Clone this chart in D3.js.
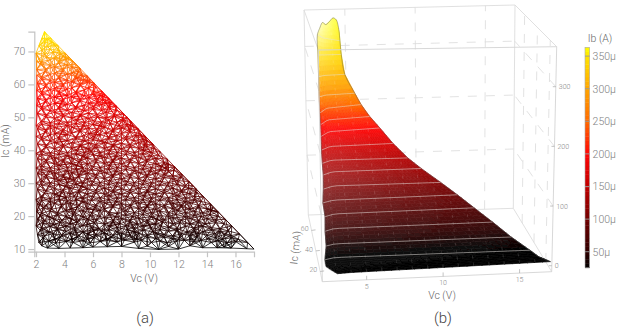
<!DOCTYPE html>
<meta charset="utf-8">
<title>Vc Ic Ib</title>
<style>
body { margin: 0; background: #fff; }
svg { display: block; }
text { font-family: Roboto, "Liberation Sans", sans-serif; font-weight: 300; fill: #777; }
.axis path, .axis line { stroke: #c4c4c4; stroke-width: 1.2; fill: none; }
.axis text { font-size: 10.5px; fill: #808080; }
.tag { font-size: 15px; fill: #444; }
.title { font-size: 10.5px; fill: #666; }
.small { font-size: 7px; fill: #888; }
</style>
<script src="https://d3js.org/d3.v7.min.js"></script>
<body>
<script>
// (a) mesh vertices, [Vc, Ic]
var meshBottom = [[2.4,11],[2.8,10.3],[3.6,10.2],[4.4,10.3],[5.3,10.4],[6,10.6],[7,10.7],[8,10.8],[9.2,10.2],[9.8,10.9],[10.6,9.9],[11.3,10.8],[12,10],[12.8,11],[13.7,10.4],[14.7,10.4],[15.2,10.6],[15.7,10.3],[16.8,10.1],[17.3,10]];
var meshPoints = [
[2.2,12],[2.9,12.4],[3.4,11.8],[4.1,12.3],[4.6,12],[5.3,12.5],[5.8,11.9],[6.5,12.3],[7,12.6],[7.7,12.2],[8.2,12.7],[8.9,12.1],[9.4,12.6],[10.1,12],[10.7,12.4],[11.2,11.9],[11.9,12.4],[12.4,12.7],[13.1,12.2],[13.6,12.6],[14.3,12],[14.8,12.5],[15.4,11.9],[16,12.3],[16.85,12],
[2.1,14.4],[2.6,14],[3.2,14.7],[3.8,14.2],[4.4,14.8],[5,14.1],[5.6,14.6],[6.2,14.3],[6.8,14.9],[7.4,14.2],[8,14.7],[8.6,14.3],[9.2,14.8],[9.8,14.2],[10.4,14.7],[11,14.4],[11.6,14],[12.2,14.6],[12.8,14.2],[13.4,14.8],[14,14.2],[14.6,14.7],[15.2,14.4],[15.7,14.1],[16.28,14.6],
[2,17],[2.4,16.4],[3,16.9],[3.5,16.3],[4.1,17],[4.7,16.5],[5.3,17.1],[5.9,16.6],[6.4,16.2],[7.1,17],[7.7,16.5],[8.3,17.1],[8.9,16.4],[9.5,17],[10.1,16.5],[10.7,17.1],[11.3,16.6],[11.9,16.2],[12.5,16.9],[13.1,16.4],[13.7,17],[14.3,16.5],[14.9,16.2],[15.74,17],
[2.1,19],[2.6,18.6],[3.2,19.3],[3.8,18.8],[4.4,19.4],[5,18.7],[5.6,19.2],[6.2,18.9],[6.8,19.5],[7.4,18.7],[8,19.2],[8.6,18.8],[9.2,19.4],[9.8,18.7],[10.4,19.2],[11,18.9],[11.6,19.5],[12.2,18.8],[12.8,19.3],[13.4,18.7],[14,19.2],[14.6,18.9],[15.3,19],
[2.05,21.4],[2.4,20.9],[3,21.6],[3.5,21],[4.1,21.7],[4.7,21.1],[5.3,21.6],[5.9,21],[6.5,21.7],[7.1,21.2],[7.7,20.9],[8.3,21.6],[8.9,21.1],[9.5,21.7],[10.1,21],[10.7,21.5],[11.3,21.1],[11.9,21.7],[12.5,21],[13.1,21.5],[13.7,21],[14.25,21.6],[14.78,21.3],
[2.1,23.7],[2.7,23.2],[3.3,23.9],[3.8,23.4],[4.4,24],[5,23.3],[5.6,23.8],[6.2,23.4],[6.8,24],[7.4,23.3],[8,23.8],[8.6,23.4],[9.2,24],[9.8,23.3],[10.4,23.8],[11,23.3],[11.6,23.9],[12.2,23.4],[12.8,24],[13.4,23.3],[14.25,23.7],
[2,25],[2.4,25.8],[3,25.3],[3.6,26.1],[4.1,25.6],[4.7,26.2],[5.3,25.5],[5.9,26],[6.5,25.6],[7.1,26.2],[7.7,25.5],[8.3,26],[8.9,25.6],[9.5,26.2],[10.1,25.5],[10.7,26],[11.3,25.6],[11.9,26.2],[12.5,25.5],[13.1,26],[13.75,25.9],
[2.1,28.2],[2.7,27.7],[3.3,28.4],[3.9,27.9],[4.4,28.5],[5,27.8],[5.6,28.3],[6.2,27.9],[6.8,28.5],[7.4,27.8],[8,28.3],[8.6,27.9],[9.2,28.5],[9.8,27.8],[10.4,28.3],[11,27.9],[11.6,28.5],[12.2,27.8],[12.7,28.4],[13.25,28.2],
[2,30],[2.4,30.6],[3,30.1],[3.6,30.8],[4.2,30.2],[4.7,30.8],[5.3,30.1],[5.9,30.6],[6.5,30.2],[7.1,30.8],[7.7,30.1],[8.3,30.6],[8.9,30.2],[9.5,30.8],[10.1,30.1],[10.7,30.6],[11.3,30.2],[11.9,30.8],[12.74,30.5],
[2.1,33],[2.7,32.4],[3.3,33.1],[3.9,32.5],[4.5,33.2],[5,32.5],[5.6,33],[6.2,32.6],[6.8,33.2],[7.4,32.5],[8,33],[8.6,32.6],[9.2,33.2],[9.8,32.5],[10.4,33],[11,32.6],[11.6,32.2],[12.24,32.7],
[2,34.6],[2.4,35.2],[3,34.7],[3.6,35.4],[4.2,34.8],[4.8,35.4],[5.3,34.7],[5.9,35.2],[6.5,34.8],[7.1,35.4],[7.7,34.7],[8.3,35.2],[8.9,34.8],[9.5,35.4],[10.1,34.7],[10.7,35.2],[11.1,34.6],[11.73,35],
[2.1,37.5],[2.7,37],[3.3,37.7],[3.9,37.1],[4.5,37.8],[5.1,37.1],[5.6,37.6],[6.2,37.2],[6.8,37.8],[7.4,37.1],[8,37.6],[8.6,37.2],[9.2,37.8],[9.8,37.1],[10.4,37.6],[11.22,37.3],
[2,39],[2.4,39.7],[3,39.2],[3.6,39.9],[4.2,39.3],[4.8,40],[5.4,39.3],[5.9,39.8],[6.5,39.4],[7.1,40],[7.7,39.3],[8.3,39.8],[8.9,39.4],[9.5,40],[10.05,39.4],[10.71,39.6],
[2.1,42],[2.7,41.6],[3.3,42.3],[3.9,41.7],[4.5,42.3],[5.1,41.6],[5.7,42.1],[6.2,41.7],[6.8,42.3],[7.4,41.6],[8,42.1],[8.6,41.7],[9.2,42.3],[9.6,41.6],[10.2,41.9],
[2,44.2],[2.4,43.9],[3,44.6],[3.6,44],[4.2,44.7],[4.8,44],[5.4,44.5],[6,44.1],[6.5,44.7],[7.1,44],[7.7,44.5],[8.3,44.1],[9,44.5],[9.68,44.2],
[2.1,46.6],[2.7,46.2],[3.3,46.9],[3.9,46.3],[4.5,47],[5.1,46.3],[5.7,46.8],[6.3,46.4],[6.8,47],[7.4,46.3],[8,46.8],[8.55,46.3],[9.17,46.5],
[2,47.5],[2.4,48.9],[3,48.4],[3.6,49.1],[4.2,48.5],[4.8,49.2],[5.4,48.5],[6,49],[6.6,48.6],[7.1,49.2],[7.7,48.5],[8.1,49],[8.66,48.8],
[2.1,51.2],[2.7,50.8],[3.3,51.5],[3.9,50.9],[4.5,51.5],[5.1,50.8],[5.7,51.3],[6.3,50.9],[6.9,51.5],[7.5,50.8],[8.15,51.1],
[2.05,53.6],[2.4,53.1],[3,53.8],[3.6,53.2],[4.2,53.9],[4.8,53.2],[5.4,53.7],[6,53.3],[6.6,53.9],[7.1,53.2],[7.64,53.4],
[2.1,55.8],[2.7,55.4],[3.3,56.1],[3.9,55.5],[4.5,56.2],[5.1,55.5],[5.7,56],[6.3,55.6],[6.7,55.3],[7.12,55.7],
[2.05,58.2],[2.4,57.7],[3,58.4],[3.6,57.8],[4.2,58.5],[4.8,57.8],[5.4,58.3],[6,57.9],[6.61,58],
[2.1,60.5],[2.7,60],[3.3,60.7],[3.9,60.1],[4.5,60.8],[5.1,60.1],[5.6,60.6],[6.1,60.3],
[2.05,62.8],[2.4,62.3],[3,63],[3.6,62.4],[4.2,63.1],[4.8,62.4],[5.2,62.9],[5.59,62.6],
[2.05,64.5],[2.7,64.7],[3.3,65.3],[3.9,64.7],[4.5,65.4],[5.08,64.9],
[2.05,67],[2.4,66.9],[3,67.5],[3.6,67],[4.1,67.6],[4.56,67.2],
[2,69.5],[2.6,69.2],[3.2,69.8],[3.7,69.3],[4.05,69.5],
[2.21,71.8],[2.8,71.5],[3.3,72],[3.54,71.8],
[2.42,74],[2.8,73.9],[3.03,74.1],
[2.6,76]
];
// the finer vertices between those rows
var meshInner = [
[2.5,13.4],[3.3,13],[3.7,13.6],[4.5,13],[4.9,13.7],[5.6,13.1],[6.1,13.5],[6.9,13.1],[7.3,13.6],[8,13],[8.7,13.5],[9.1,13],[9.8,13.6],[10.4,13.2],[11,13.6],[11.6,13.1],[12.1,13.5],[12.8,13],[13.3,13.7],[14,13.1],[14.6,13.5],[15.1,13],[15.7,13.4],[16.2,13],
[2.3,15.7],[2.9,15.2],[3.5,15.9],[4.1,15.4],[4.7,15.7],[5.3,15.2],[6,15.9],[6.6,15.4],[7.1,15.8],[7.7,15.3],[8.4,15.9],[8.9,15.3],[9.5,15.7],[10.2,15.3],[10.7,15.9],[11.3,15.4],[11.9,15.7],[12.6,15.2],[13.1,15.6],[13.7,15.3],[14.3,15.8],[14.9,15.3],[15.5,15.5],
[2.5,17.9],[3.2,17.5],[3.7,18.1],[4.4,17.7],[4.9,18.2],[5.6,17.6],[6.1,18],[6.8,17.6],[7.4,18.1],[7.9,17.7],[8.6,18.2],[9.1,17.6],[9.8,18],[10.4,17.6],[10.9,18.2],[11.6,17.7],[12.1,18],[12.8,17.6],[13.4,18.1],[13.9,17.6],[14.6,18],[15.2,17.7],
[2.3,20.3],[2.9,19.8],[3.5,20.4],[4.1,19.9],[4.6,20.5],[5.3,19.8],[5.8,20.2],[6.5,19.9],[7.1,20.4],[7.6,19.8],[8.3,20.3],[8.8,19.9],[9.5,20.5],[10.1,19.8],[10.6,20.2],[11.3,19.9],[11.8,20.5],[12.5,19.8],[13.1,20.2],[13.6,19.9],[14.2,20.4],[14.8,20],
[2.5,22.6],[3.1,22.1],[3.8,22.7],[4.4,22.2],[4.9,22.8],[5.6,22.2],[6.2,22.6],[6.8,22.2],[7.4,22.8],[8,22.1],[8.6,22.6],[9.2,22.3],[9.8,22.8],[10.4,22.1],[11,22.6],[11.6,22.3],[12.2,22.8],[12.8,22.1],[13.4,22.6],[14,22.2],[14.4,22.6],
[2.4,24.8],[3,24.4],[3.6,25],[4.2,24.5],[4.8,25],[5.3,24.4],[5.9,24.8],[6.5,24.5],[7.1,25],[7.7,24.4],[8.3,24.9],[8.9,24.5],[9.5,25],[10.1,24.4],[10.7,24.8],[11.3,24.5],[11.9,25],[12.5,24.4],[13.1,24.9],[13.6,24.5],
[2.6,26.9],[3.3,26.7],[3.8,27.2],[4.4,26.8],[5,27.3],[5.6,26.7],[6.2,27.1],[6.8,26.7],[7.4,27.3],[8,26.7],[8.6,27.1],[9.2,26.8],[9.8,27.3],[10.4,26.7],[11,27.1],[11.6,26.7],[12.2,27.3],[12.8,26.8],[13.3,27.2],
[2.4,29.4],[3,29],[3.6,29.6],[4.2,29.1],[4.8,29.7],[5.3,29],[5.9,29.4],[6.5,29.1],[7.1,29.7],[7.7,29],[8.3,29.5],[8.9,29.1],[9.5,29.7],[10.1,29],[10.7,29.4],[11.3,29.1],[11.9,29.6],[12.5,29.2],[13,29.3],
[2.7,31.7],[3.3,31.3],[3.9,31.9],[4.4,31.4],[5,32],[5.6,31.3],[6.2,31.7],[6.8,31.4],[7.4,32],[8,31.3],[8.6,31.7],[9.2,31.4],[9.8,32],[10.4,31.3],[11,31.7],[11.6,31.3],[12.2,31.8],
[2.4,34],[3,33.6],[3.6,34.2],[4.2,33.7],[4.8,34.3],[5.4,33.6],[5.9,34],[6.5,33.7],[7.1,34.3],[7.7,33.6],[8.3,34.1],[8.9,33.7],[9.5,34.3],[10.1,33.6],[10.7,34],[11.3,33.7],[11.7,34],
[2.7,36.3],[3.3,35.9],[3.9,36.5],[4.5,36],[5,36.5],[5.6,35.9],[6.2,36.3],[6.8,36],[7.4,36.5],[8,35.9],[8.6,36.4],[9.2,36],[9.8,36.6],[10.4,35.9],[11,36.3],[11.3,35.9],
[2.4,38.6],[3,38.2],[3.6,38.8],[4.2,38.3],[4.8,38.9],[5.4,38.2],[6,38.6],[6.5,38.3],[7.1,38.9],[7.7,38.2],[8.3,38.7],[8.9,38.3],[9.5,38.9],[10.1,38.2],[10.6,38.5],
[2.7,40.9],[3.3,40.5],[3.9,41.1],[4.5,40.6],[5.1,41.2],[5.7,40.5],[6.2,40.9],[6.8,40.6],[7.4,41.2],[8,40.5],[8.6,41],[9.2,40.6],[9.8,41.1],[10.3,40.6],
[2.4,43.2],[3,42.8],[3.6,43.4],[4.2,42.9],[4.8,43.5],[5.4,42.8],[6,43.2],[6.6,42.9],[7.1,43.5],[7.7,42.8],[8.3,43.3],[8.9,42.9],[9.5,43.4],[9.8,43],
[2.7,45.5],[3.3,45.1],[3.9,45.7],[4.5,45.2],[5.1,45.8],[5.7,45.1],[6.3,45.5],[6.9,45.2],[7.4,45.8],[8,45.1],[8.6,45.6],[9.2,45.2],
[2.4,47.8],[3,47.4],[3.6,48],[4.2,47.5],[4.8,48.1],[5.4,47.4],[6,47.8],[6.6,47.5],[7.2,48],[7.8,47.4],[8.4,47.9],[8.8,47.6],
[2.7,50.1],[3.3,49.7],[3.9,50.3],[4.5,49.8],[5.1,50.4],[5.7,49.7],[6.3,50.1],[6.9,49.8],[7.5,50.3],[8.1,49.8],[8.4,50],
[2.4,52.4],[3,52],[3.6,52.6],[4.2,52.1],[4.8,52.7],[5.4,52],[6,52.4],[6.6,52.1],[7.2,52.6],[7.7,52.1],
[2.7,54.7],[3.3,54.3],[3.9,54.9],[4.5,54.4],[5.1,55],[5.7,54.3],[6.3,54.7],[6.9,54.4],[7.3,54.6],
[2.4,57],[3,56.6],[3.6,57.2],[4.2,56.7],[4.8,57.3],[5.4,56.6],[6,57],[6.5,56.7],[6.8,56.9],
[2.7,59.3],[3.3,58.9],[3.9,59.5],[4.5,59],[5.1,59.6],[5.7,58.9],[6.2,59.3],
[2.4,61.6],[3,61.2],[3.6,61.8],[4.2,61.3],[4.8,61.9],[5.4,61.4],[5.8,61.4],
[2.7,63.9],[3.3,63.5],[3.9,64.1],[4.5,63.6],[5,64],
[2.4,66],[3,65.8],[3.6,66.4],[4.2,65.9],[4.7,66.2],
[2.7,68.2],[3.3,68],[3.9,68.5],[4.3,68.1],
[2.4,70.4],[3,70.6],[3.6,70.4],
[2.6,72.8],[3.1,72.9]
];
var meshIbIc = [10, 20, 30, 40, 50, 60, 66, 70, 76];
var meshIb = [25, 58, 92, 128, 168, 215, 265, 320, 360];

// (b) surface: one row per mesh line, with samples
// across it (left edge, shoulder, hypotenuse; the top row follows the peaks)
var surfaceIc = [10, 12, 14, 18, 22, 26, 30, 34, 38, 42, 46, 50, 54, 58, 62, 66, 70, 74, 76];
var surfaceVc = [[3.1,4,17],[2.4,3.2,16.3],[2.35,3,15.8],[2.5,3.1,14.7],[2.5,3.1,13.6],[2.57,3.2,12.5],[2.5,3.2,11.5],[2.6,3.3,10.5],[2.67,3.3,9.3],[2.68,3.3,8.5],[2.7,3.3,7.6],[2.75,3.3,6.8],[2.8,3.3,6.2],[2.82,3.3,5.7],[2.85,3.3,5.35],[2.9,3.3,4.75],[2.95,3.3,4.6],[3,3.4,4.6],[3.22,3.41,3.65,3.93,4.17,4.41,4.6]];
var surfaceIb = [[2,3,7],[11,12,13],[19,22,21],[35,38,38],[53,57,58],[71,75,77],[88,92,94],[105,110,110],[123,128,129],[137,142,142],[154,160,162],[172,180,184],[187,195,199],[202,210,215],[225,228,230],[256,258,259],[290,290,290],[322,316,310],[332,342,338,344,350,346,322]];
var surfaceHaze = [0.02, 0.03, 0.05, 0.08, 0.11, 0.13, 0.15, 0.16, 0.16, 0.14, 0.11, 0.08, 0.05, 0.04, 0.06, 0.12, 0.24, 0.46, 0.6];
// lit surface colour runs ahead of its height near the top
var shadeIn = [0, 150, 205, 240, 290, 340];
var shadeOut = [0, 150, 232, 295, 345, 363];

// colour bar
var ibStops = [25, 50, 100, 150, 200, 250, 300, 350, 363];
var ibColors = ["#000000", "#2e0000", "#700000", "#c00000", "#ff0505", "#ff6a00", "#ffa500", "#ffe400", "#ffff00"];
var barTicks = [50, 100, 150, 200, 250, 300, 350];

var vcTicks3d = [5, 10, 15];
var icTicks3d = [20, 40, 60];
var ibTicks3d = [0, 100, 200, 300];
var mainVcTicks = [2, 4, 6, 8, 10, 12, 14, 16];
var mainIcTicks = [10, 20, 30, 40, 50, 60, 70];

var width = 623, height = 334;
var svg = d3.select("body").append("svg").attr("width", width).attr("height", height);
var defs = svg.append("defs");
defs.append("filter").attr("id", "soft").append("feGaussianBlur").attr("stdDeviation", 0.35);

var color = d3.scaleLinear().domain(ibStops).range(ibColors).clamp(true);
var shade = d3.scaleLinear().domain(shadeIn).range(shadeOut);

// ---------- (a) ----------
var x = d3.scaleLinear().domain([1.88, 17.3]).range([34.3, 254]);
var y = d3.scaleLinear().domain([9.2, 76]).range([251.7, 31.7]);
var ibOfIc = d3.scaleLinear().domain(meshIbIc).range(meshIb);

function edgeLength(d) {
  return Math.hypot(x(d[0][0]) - x(d[1][0]), y(d[0][1]) - y(d[1][1]));
}
var pts = meshBottom.concat(meshPoints, meshInner);
var delaunay = d3.Delaunay.from(pts, function(d) { return x(d[0]); }, function(d) { return y(d[1]); });
var tri = delaunay.triangles, half = delaunay.halfedges;
var edges = [], crossEdges = [];
tri.forEach(function(p, e) {
  var next = e % 3 == 2 ? e - 2 : e + 1;
  var q = tri[next];
  if (p < q || half[e] < 0) edges.push([pts[p], pts[q]]);
  // the other diagonal of each pair of triangles, fills out the coarse cells
  var h = half[e];
  if (h > e) {
    var oppA = tri[e % 3 == 0 ? e + 2 : e - 1];
    var oppB = tri[h % 3 == 0 ? h + 2 : h - 1];
    crossEdges.push([pts[oppA], pts[oppB]]);
  }
});
edges = edges.filter(function(d) { return edgeLength(d) < 22; })
  .concat(crossEdges.filter(function(d) { return edgeLength(d) < 13; }));

svg.append("g").attr("filter", "url(#soft)")
  .selectAll("line").data(edges).enter().append("line")
    .attr("x1", function(d) { return x(d[0][0]); })
    .attr("y1", function(d) { return y(d[0][1]); })
    .attr("x2", function(d) { return x(d[1][0]); })
    .attr("y2", function(d) { return y(d[1][1]); })
    .attr("stroke", function(d) { return color((ibOfIc(d[0][1]) + ibOfIc(d[1][1])) / 2); })
    .attr("stroke-width", 0.8);

svg.append("g").attr("class", "axis").attr("transform", "translate(0,251.7)")
  .call(d3.axisBottom(x).tickValues(mainVcTicks).tickSize(5.5).tickPadding(3));
svg.append("g").attr("class", "axis").attr("transform", "translate(34.3,0)")
  .call(d3.axisLeft(y).tickValues(mainIcTicks).tickSize(6).tickPadding(3));
svg.append("text").attr("class", "title").attr("x", 144).attr("y", 281.5).attr("text-anchor", "middle").text("Vc (V)");
svg.append("text").attr("class", "title").attr("transform", "translate(8.5,141) rotate(-90)").attr("text-anchor", "middle").text("Ic (mA)");
svg.append("text").attr("class", "tag").attr("x", 145).attr("y", 323).attr("text-anchor", "middle").text("(a)");

// ---------- (b) ----------
var uScale = d3.scaleLinear().domain([2.1, 17.1]).range([0, 1]);
var vScale = d3.scaleLinear().domain([10, 75]).range([0, 1]);
var wScale = d3.scaleLinear().domain([-10, 367]).range([0, 1]);

// box corners on the page: f/b front/back, l/r left/right, 0/1 floor/top
var corner = {
  fl0: [322.3, 281.7], fr0: [551.7, 271.7], bl0: [308.3, 215], br0: [513.3, 208.3],
  fl1: [318.3, 50], fr1: [556.7, 46.7], bl1: [304, 10], br1: [515, 5]
};
function mix(a, b, t) { return [a[0] + (b[0] - a[0]) * t, a[1] + (b[1] - a[1]) * t]; }
function project(vc, ic, ib) {
  var u = uScale(vc), v = vScale(ic), w = wScale(ib);
  var f0 = mix(corner.fl0, corner.fr0, u), b0 = mix(corner.bl0, corner.br0, u);
  var f1 = mix(corner.fl1, corner.fr1, u), b1 = mix(corner.bl1, corner.br1, u);
  return mix(mix(f0, b0, v), mix(f1, b1, v), w);
}
var line = d3.line();
var vc0 = uScale.domain()[0], vc1 = uScale.domain()[1];
var ic0 = vScale.domain()[0], ic1 = vScale.domain()[1];
var ib0 = wScale.domain()[0], ib1 = wScale.domain()[1];

function seg(a, b) { return line([project.apply(null, a), project.apply(null, b)]); }

var back = svg.append("g").attr("fill", "none");
var backEdges = [
  [[vc0,ic1,ib0],[vc1,ic1,ib0]], [[vc0,ic1,ib1],[vc1,ic1,ib1]],
  [[vc0,ic1,ib0],[vc0,ic1,ib1]], [[vc1,ic1,ib0],[vc1,ic1,ib1]],
  [[vc0,ic0,ib0],[vc0,ic1,ib0]], [[vc1,ic0,ib0],[vc1,ic1,ib0]],
  [[vc0,ic0,ib1],[vc0,ic1,ib1]], [[vc1,ic0,ib1],[vc1,ic1,ib1]]
];
back.selectAll("path.edge").data(backEdges).enter().append("path").attr("class", "edge")
  .attr("d", function(d) { return seg(d[0], d[1]); })
  .attr("stroke", "#dcdcdc").attr("stroke-width", 0.9);

var gridLines = [];
vcTicks3d.forEach(function(t) {
  gridLines.push([[t,ic1,ib0],[t,ic1,ib1]]);
});
ibTicks3d.slice(1).forEach(function(t) {
  gridLines.push([[vc0,ic1,t],[vc1,ic1,t]]);
  gridLines.push([[vc1,ic0,t],[vc1,ic1,t]]);
  gridLines.push([[vc0,ic0,t],[vc0,ic1,t]]);
});
icTicks3d.forEach(function(t) {
  gridLines.push([[vc1,t,ib0],[vc1,t,ib1]]);
});
back.selectAll("path.grid").data(gridLines).enter().append("path").attr("class", "grid")
  .attr("d", function(d) { return seg(d[0], d[1]); })
  .attr("stroke", "#dadada").attr("stroke-width", 0.8).attr("stroke-dasharray", "9,9");

// surface cells
var haze = d3.scaleLinear().domain(surfaceIc).range(surfaceHaze);
function along(row, f, list) {
  var n = list[row].length;
  var dom = n == 3 ? [0, 0.12, 1] : d3.range(n).map(function(i) { return i / (n - 1); });
  return d3.scaleLinear().domain(dom).range(list[row])(f);
}
function surfPoint(r, s, f) {
  var a = surfaceIc[r], b = surfaceIc[r + 1];
  return {
    vc: along(r, f, surfaceVc) * (1 - s) + along(r + 1, f, surfaceVc) * s,
    ib: along(r, f, surfaceIb) * (1 - s) + along(r + 1, f, surfaceIb) * s,
    ic: a + (b - a) * s
  };
}
function surfXY(p) { return project(p.vc, p.ic, p.ib); }

var cells = [];
var nSub = 4, nCol = 30;
d3.range(surfaceIc.length - 1).forEach(function(r) {
  d3.range(nSub).forEach(function(j) {
    d3.range(nCol).forEach(function(i) {
      var s0 = j / nSub, s1 = (j + 1) / nSub;
      var f0 = i / nCol, f1 = (i + 1) / nCol;
      var mid = surfPoint(r, (s0 + s1) / 2, (f0 + f1) / 2);
      var whiten = haze(mid.ic) * (1.25 - 0.9 * (f0 + f1) / 2);
      cells.push({
        d: line([surfXY(surfPoint(r, s0, f0)), surfXY(surfPoint(r, s0, f1)), surfXY(surfPoint(r, s1, f1)), surfXY(surfPoint(r, s1, f0))]) + "Z",
        fill: d3.interpolateRgb(color(shade(mid.ib)), "#ffffff")(whiten)
      });
    });
  });
});
var surf = svg.append("g").attr("filter", "url(#soft)");
surf.selectAll("path.cell").data(cells).enter().append("path").attr("class", "cell")
  .attr("d", function(d) { return d.d; })
  .attr("fill", function(d) { return d.fill; })
  .attr("stroke", function(d) { return d.fill; })
  .attr("stroke-width", 0.7);

// constant Vc mesh lines, faint and broken by the box grid behind
var vcMesh = d3.range(3, 17);
vcMesh.forEach(function(t) {
  var pts3 = [];
  surfaceIc.forEach(function(ic, r) {
    var vcs = surfaceVc[r];
    if (t >= vcs[0] && t <= vcs[vcs.length - 1]) {
      var ib = d3.scaleLinear().domain(vcs).range(surfaceIb[r])(t);
      pts3.push(project(t, ic, ib));
    }
  });
  if (pts3.length > 1) {
    surf.append("path").attr("d", line(pts3)).attr("fill", "none")
      .attr("stroke", "#fff").attr("stroke-opacity", 0.22).attr("stroke-width", 0.6).attr("stroke-dasharray", "3,4");
  }
});

// constant Ic mesh lines
surfaceIc.forEach(function(ic, r) {
  if (r < 2 || r == surfaceIc.length - 1) return;
  var samples = d3.range(0, 1.001, 0.05).map(function(f) {
    return project(along(r, f, surfaceVc), ic, along(r, f, surfaceIb));
  });
  surf.append("path").attr("d", line(samples)).attr("fill", "none")
    .attr("stroke", "#e4e0dc").attr("stroke-opacity", 0.75).attr("stroke-width", 0.7);
});

// surface outline
var lastRow = surfaceIc.length - 1;
var leftSide = surfaceIc.map(function(ic, r) { return project(surfaceVc[r][0], ic, surfaceIb[r][0]); });
var rightSide = surfaceIc.map(function(ic, r) {
  var n = surfaceVc[r].length - 1;
  return project(surfaceVc[r][n], ic, surfaceIb[r][n]);
}).reverse();
var topSide = surfaceVc[lastRow].map(function(v, i) { return project(v, surfaceIc[lastRow], surfaceIb[lastRow][i]); });
surf.append("path").attr("d", d3.line().curve(d3.curveCatmullRom)(leftSide.concat(topSide, rightSide)))
  .attr("fill", "none").attr("stroke", "#555").attr("stroke-opacity", 0.7).attr("stroke-width", 0.6);

// front box edges, ticks and labels
var front = svg.append("g").attr("fill", "none");
var frontEdges = [
  [[vc0,ic0,ib0],[vc1,ic0,ib0]], [[vc0,ic0,ib1],[vc1,ic0,ib1]],
  [[vc0,ic0,ib0],[vc0,ic0,ib1]], [[vc1,ic0,ib0],[vc1,ic0,ib1]]
];
front.selectAll("path").data(frontEdges).enter().append("path")
  .attr("d", function(d) { return seg(d[0], d[1]); })
  .attr("stroke", "#d4d4d4").attr("stroke-width", 0.9);

vcTicks3d.forEach(function(t) {
  var p = project(t, ic0, ib0);
  front.append("path").attr("d", line([p, [p[0], p[1] - 4]])).attr("stroke", "#aaa").attr("stroke-width", 0.7);
  svg.append("text").attr("class", "small").attr("x", p[0]).attr("y", p[1] + 9).attr("text-anchor", "middle").text(t);
});
icTicks3d.forEach(function(t) {
  var p = project(vc0, t, ib0);
  front.append("path").attr("d", line([p, [p[0] + 4, p[1] - 0.5]])).attr("stroke", "#aaa").attr("stroke-width", 0.7);
  svg.append("text").attr("class", "small").attr("x", p[0] - 3).attr("y", p[1] + 1).attr("text-anchor", "end").text(t);
});
ibTicks3d.forEach(function(t) {
  var p = project(vc1, ic0, t);
  front.append("path").attr("d", line([[p[0] - 3, p[1]], p])).attr("stroke", "#aaa").attr("stroke-width", 0.7);
  svg.append("text").attr("class", "small").attr("x", p[0] + 3).attr("y", p[1] + 2.5).text(t);
});
svg.append("text").attr("class", "title").attr("x", 442).attr("y", 299).attr("text-anchor", "middle").text("Vc (V)");
svg.append("text").attr("class", "title").attr("transform", "translate(299,248) rotate(-84)").attr("text-anchor", "middle").text("Ic (mA)");
svg.append("text").attr("class", "tag").attr("x", 443).attr("y", 323).attr("text-anchor", "middle").text("(b)");

// colour bar
var barY = d3.scaleLinear().domain([25.5, 363.5]).range([267.7, 47.3]);
var bar = svg.append("g");
var barSteps = d3.range(25.5, 363.5, 6.5);
bar.selectAll("rect").data(barSteps).enter().append("rect")
  .attr("x", 585).attr("width", 4.6)
  .attr("y", function(d) { return barY(d + 6.5); })
  .attr("height", function(d) { return barY(d) - barY(d + 6.5) + 0.4; })
  .attr("fill", function(d) { return color(d + 3.2); });
bar.append("rect").attr("x", 585).attr("y", 47.3).attr("width", 4.6).attr("height", 220.4)
  .attr("fill", "none").attr("stroke", "#aaa").attr("stroke-width", 0.6);
svg.append("g").attr("class", "axis").attr("transform", "translate(589.6,0)")
  .call(d3.axisRight(barY).tickValues(barTicks).tickSize(0).tickPadding(3).tickFormat(function(d) { return d + "µ"; }))
  .call(function(g) { g.select(".domain").remove(); });
bar.selectAll("line").data(barTicks).enter().append("line")
  .attr("x1", 585).attr("x2", 589.6)
  .attr("y1", function(d) { return barY(d); }).attr("y2", function(d) { return barY(d); })
  .attr("stroke", "#999").attr("stroke-width", 0.9);
svg.append("text").attr("class", "title").attr("x", 600).attr("y", 42).attr("text-anchor", "middle").text("Ib (A)");
</script>
</body>
